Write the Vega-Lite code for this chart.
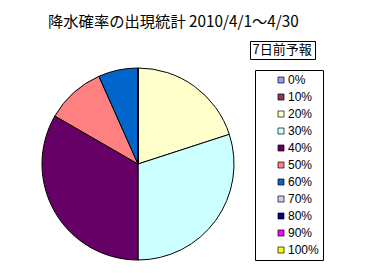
{
  "$schema": "https://vega.github.io/schema/vega-lite/v6.json",
  "autosize": "none",
  "width": 192,
  "height": 192,
  "padding": {"left": 42, "top": 68, "right": 136, "bottom": 13},
  "background": "white",
  "title": {
    "text": "降水確率の出現統計 2010/4/1～4/30",
    "anchor": "start",
    "frame": "group",
    "dx": 6,
    "offset": 10,
    "font": "Noto Sans CJK JP",
    "fontSize": 15.3,
    "fontWeight": "normal",
    "color": "black"
  },
  "data": {
    "values": [
      {"idx": 0, "prob": "0%", "days": 0},
      {"idx": 1, "prob": "10%", "days": 0},
      {"idx": 2, "prob": "20%", "days": 6},
      {"idx": 3, "prob": "30%", "days": 9},
      {"idx": 4, "prob": "40%", "days": 10},
      {"idx": 5, "prob": "50%", "days": 3},
      {"idx": 6, "prob": "60%", "days": 2},
      {"idx": 7, "prob": "70%", "days": 0},
      {"idx": 8, "prob": "80%", "days": 0},
      {"idx": 9, "prob": "90%", "days": 0},
      {"idx": 10, "prob": "100%", "days": 0}
    ]
  },
  "mark": {"type": "arc", "strokeWidth": 1, "radius": 96},
  "encoding": {
    "theta": {"field": "days", "type": "quantitative", "stack": true},
    "order": {"field": "idx", "type": "quantitative"},
    "color": {
      "field": "prob",
      "type": "nominal",
      "scale": {
        "domain": ["0%", "10%", "20%", "30%", "40%", "50%", "60%", "70%", "80%", "90%", "100%"],
        "range": ["#9999FF", "#993366", "#FFFFCC", "#CCFFFF", "#660066", "#FF8080", "#0066CC", "#CCCCFF", "#000080", "#FF00FF", "#FFFF00"]
      },
      "legend": {
        "orient": "none",
        "legendX": 213,
        "legendY": 2,
        "title": null,
        "strokeColor": "black",
        "fillColor": "white",
        "padding": 4,
        "symbolType": "square",
        "symbolSize": 36,
        "symbolStrokeColor": "black",
        "symbolStrokeWidth": 0.7,
        "symbolOffset": 16,
        "labelFont": "Liberation Sans",
        "labelFontSize": 12,
        "labelColor": "black",
        "labelOffset": 1,
        "rowPadding": 5
      }
    },
    "stroke": {
      "datum": "7日前予報",
      "type": "nominal",
      "scale": {"range": ["black"]},
      "legend": {
        "orient": "none",
        "legendX": 208,
        "legendY": -27,
        "title": "7日前予報",
        "values": [],
        "strokeColor": "black",
        "fillColor": "white",
        "padding": 2.5,
        "titleFont": "Noto Sans CJK JP",
        "titleFontSize": 13,
        "titleFontWeight": "normal",
        "titleColor": "black",
        "titlePadding": 0
      }
    }
  },
  "config": {"view": {"stroke": null}}
}
